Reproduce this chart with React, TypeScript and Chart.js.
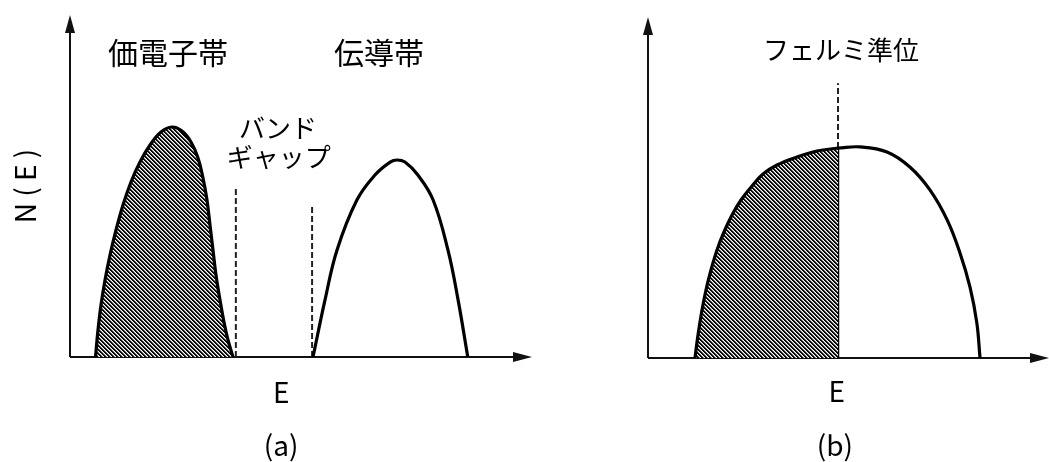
import { useEffect, useRef } from "react";
import { Chart, registerables } from "chart.js";

Chart.register(...registerables);

// Energy axis and density of states both run on arbitrary 0–100 units.

// (a) insulator / semiconductor: valence band and conduction band
const valenceE = [5.52, 6.06, 6.71, 7.58, 8.66, 9.96, 11.47, 13.2, 15.15, 17.32, 19.7, 22.08, 24.24, 26.19, 27.71, 28.79, 29.65, 30.3, 30.95, 31.6, 32.47, 33.33, 34.2, 35.28];
const valenceN = [0, 7.89, 15.2, 22.51, 29.82, 37.13, 44.44, 51.17, 57.02, 61.99, 65.79, 67.25, 66.08, 62.87, 58.19, 52.34, 45.91, 38.6, 31.29, 23.98, 16.67, 10.23, 4.97, 0];
const conductionE = [52.6, 55.2, 57.8, 62.1, 66.0, 69.3, 70.8, 72.5, 75.3, 78.6, 81.8, 84.0, 86.1];
const conductionN = [0, 16.7, 31.3, 45.9, 53.2, 57.0, 57.6, 57.0, 53.2, 45.9, 31.3, 16.7, 0];
// band-gap edges: energy and height of the dashed markers
const gapEdgeE = [35.9, 52.4];
const gapEdgeN = [49.4, 44.4];

// (b) metal: one partly filled band, Fermi level at the peak
const filledE = [11.72, 12.47, 13.47, 14.46, 15.71, 17.21, 18.95, 20.95, 23.19, 25.94, 28.68, 32.17, 37.16, 42.14, 47.38];
const filledN = [0, 6.74, 14.08, 19.94, 25.81, 31.67, 36.95, 41.94, 46.33, 50.44, 53.96, 56.6, 58.94, 60.7, 61.58];
const emptyE = [47.38, 52.9, 59.6, 65.3, 70.3, 74.6, 77.8, 80.3, 82.0, 82.8];
const emptyN = [61.58, 61.9, 60.4, 56.0, 49.3, 40.5, 30.8, 20.8, 10.3, 0];
const fermiE = 47.38;
const fermiN = [61.58, 80.6];

// text
const yTitle = "N ( E )";
const xTitle = "E";
const captionA = "(a)";
const captionB = "(b)";
const valenceLabel = "価電子帯";
const conductionLabel = "伝導帯";
const gapLabel = ["バンド", "ギャップ"];
const fermiLabel = "フェルミ準位";

const FONT = '"Noto Sans CJK JP", "Noto Sans", sans-serif';
const INK = "#111";

const zip = (xs: number[], ys: number[]) => xs.map((x, i) => ({ x, y: ys[i] }));

// diagonal "\\\" hatching, drawn pixel by pixel so the stripes stay crisp
function hatchPattern(): CanvasPattern | string {
  const s = 4;
  const shades = [10, 10, 150, 255];
  const c = document.createElement("canvas");
  c.width = s;
  c.height = s;
  const g = c.getContext("2d");
  if (!g) return "#555";
  const img = g.createImageData(s, s);
  for (let y = 0; y < s; y++) {
    for (let x = 0; x < s; x++) {
      const v = shades[(((x - y) % s) + s) % s];
      const i = (y * s + x) * 4;
      img.data[i] = v;
      img.data[i + 1] = v;
      img.data[i + 2] = v;
      img.data[i + 3] = 255;
    }
  }
  g.putImageData(img, 0, 0);
  const p = g.createPattern(c, "repeat");
  return p ?? "#555";
}

type Label = { text: string; x: number; y: number; size: number; rotate?: boolean };

function decorations(labels: Label[]) {
  return {
    id: "decorations",
    beforeDatasetsDraw(chart: Chart) {
      const { ctx, chartArea } = chart;
      const { left, right, top, bottom } = chartArea;
      ctx.save();
      ctx.strokeStyle = INK;
      ctx.fillStyle = INK;
      ctx.lineWidth = 2;
      ctx.beginPath();
      ctx.moveTo(left, bottom);
      ctx.lineTo(left, top + 14);
      ctx.moveTo(left, bottom);
      ctx.lineTo(right - 14, bottom);
      ctx.stroke();
      // arrow heads
      ctx.beginPath();
      ctx.moveTo(left, top);
      ctx.lineTo(left - 5, top + 18);
      ctx.lineTo(left + 5, top + 18);
      ctx.closePath();
      ctx.fill();
      ctx.beginPath();
      ctx.moveTo(right, bottom);
      ctx.lineTo(right - 19, bottom - 5);
      ctx.lineTo(right - 19, bottom + 5);
      ctx.closePath();
      ctx.fill();
      ctx.restore();
    },
    afterDatasetsDraw(chart: Chart) {
      const { ctx } = chart;
      const xs = chart.scales.x;
      const ys = chart.scales.y;
      ctx.save();
      ctx.fillStyle = "#000";
      ctx.textAlign = "center";
      ctx.textBaseline = "middle";
      for (const l of labels) {
        ctx.font = `${l.size}px ${FONT}`;
        const px = xs.getPixelForValue(l.x);
        const py = ys.getPixelForValue(l.y);
        if (l.rotate) {
          ctx.save();
          ctx.translate(px, py);
          ctx.rotate(-Math.PI / 2);
          ctx.fillText(l.text, 0, 0);
          ctx.restore();
        } else {
          ctx.fillText(l.text, px, py);
        }
      }
      ctx.restore();
    },
  };
}

function baseOptions(padding: { left: number; right: number; top: number; bottom: number }) {
  return {
    responsive: false,
    animation: false as const,
    devicePixelRatio: 1,
    layout: { padding },
    plugins: { legend: { display: false }, tooltip: { enabled: false } },
    elements: { point: { radius: 0 } },
    scales: {
      x: { type: "linear" as const, min: 0, max: 100, display: false },
      y: { type: "linear" as const, min: 0, max: 100, display: false },
    },
  };
}

const curve = {
  borderColor: "#000",
  borderWidth: 3.2,
  tension: 0.4,
  borderJoinStyle: "round" as const,
  pointRadius: 0,
};

const dashed = {
  borderColor: "#222",
  borderWidth: 2,
  borderDash: [6, 3],
  pointRadius: 0,
  fill: false,
};

export default function App() {
  const refA = useRef<HTMLCanvasElement>(null);
  const refB = useRef<HTMLCanvasElement>(null);

  useEffect(() => {
    if (!refA.current || !refB.current) return;
    const hatch = hatchPattern();

    const chartA = new Chart(refA.current, {
      type: "line",
      data: {
        datasets: [
          { ...curve, data: zip(valenceE, valenceN), fill: "origin", backgroundColor: hatch },
          { ...curve, data: zip(conductionE, conductionN), fill: false },
          { ...dashed, data: [{ x: gapEdgeE[0], y: 0 }, { x: gapEdgeE[0], y: gapEdgeN[0] }] },
          { ...dashed, data: [{ x: gapEdgeE[1], y: 0 }, { x: gapEdgeE[1], y: gapEdgeN[1] }] },
        ],
      },
      options: baseOptions({ left: 70, right: 48, top: 15, bottom: 105 }),
      plugins: [
        decorations([
          { text: valenceLabel, x: 21.2, y: 88.9, size: 30 },
          { text: conductionLabel, x: 66.9, y: 88.9, size: 30 },
          { text: gapLabel[0], x: 45.0, y: 67.0, size: 26 },
          { text: gapLabel[1], x: 45.2, y: 58.5, size: 26 },
          { text: xTitle, x: 45.7, y: -10.2, size: 28 },
          { text: captionA, x: 45.7, y: -25.7, size: 28 },
          { text: yTitle, x: -9.7, y: 50.0, size: 28, rotate: true },
        ]),
      ],
    } as any);

    const chartB = new Chart(refB.current, {
      type: "line",
      data: {
        datasets: [
          { ...curve, data: zip(filledE, filledN), fill: "origin", backgroundColor: hatch },
          { ...curve, data: zip(emptyE, emptyN), fill: false },
          {
            data: [{ x: fermiE, y: 0 }, { x: fermiE, y: fermiN[0] }],
            borderColor: "#000",
            borderWidth: 2.5,
            pointRadius: 0,
            fill: false,
          },
          { ...dashed, data: [{ x: fermiE, y: fermiN[0] }, { x: fermiE, y: fermiN[1] }] },
        ],
      },
      options: baseOptions({ left: 88, right: 0, top: 17, bottom: 104 }),
      plugins: [
        decorations([
          { text: fermiLabel, x: 48.1, y: 90.3, size: 26 },
          { text: xTitle, x: 47.1, y: -9.7, size: 28 },
          { text: captionB, x: 46.6, y: -25.5, size: 28 },
        ]),
      ],
    } as any);

    return () => {
      chartA.destroy();
      chartB.destroy();
    };
  }, []);

  return (
    <div
      style={{
        position: "fixed",
        left: 0,
        top: 0,
        width: 1049,
        height: 462,
        background: "#fff",
        overflow: "hidden",
      }}
    >
      <canvas
        ref={refA}
        width={580}
        height={462}
        style={{ position: "absolute", left: 0, top: 0, width: 580, height: 462 }}
      />
      <canvas
        ref={refB}
        width={489}
        height={462}
        style={{ position: "absolute", left: 560, top: 0, width: 489, height: 462 }}
      />
    </div>
  );
}
